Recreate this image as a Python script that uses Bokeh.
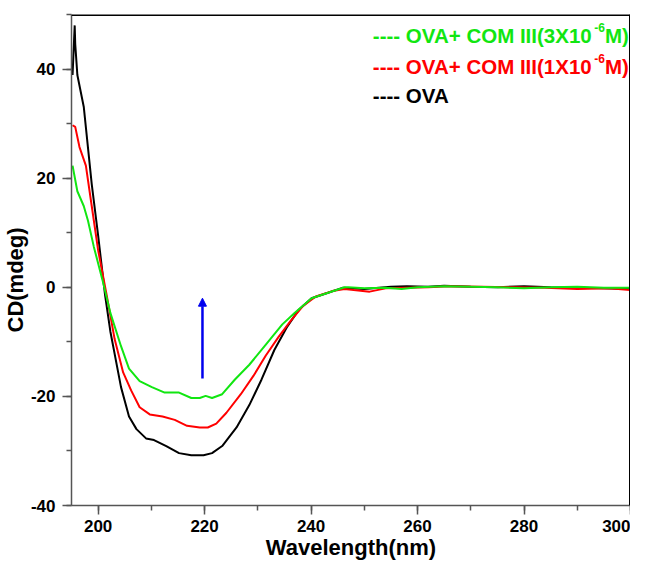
from bokeh.plotting import figure
from bokeh.models import (LinearAxis, SingleIntervalTicker, Range1d, Arrow, NormalHead,
                          ColumnDataSource, CustomJSTickFormatter, Span, Title)
from bokeh.core.properties import value
from bokeh.embed import file_html
from bokeh.resources import INLINE

# ---- data ----
ova_x = [195.2, 195.6, 195.7, 196.1, 197.3, 198.8, 200.0, 201.3, 202.3, 204.3, 205.8, 207.2,
         209.0, 210.5, 212.8, 215.2, 217.5, 219.8, 221.4, 223.3, 226.0, 228.4, 230.7, 233.1,
         235.4, 237.7, 240.1, 243.2, 245.9, 250, 255, 258, 262, 265, 270, 275, 280, 285,
         290, 295, 300]
ova_y = [38.9, 48.0, 44.6, 38.9, 33.1, 18.9, 9.5, -1.4, -8.1, -18.3, -23.7, -26.0,
         -27.7, -28.0, -29.1, -30.4, -30.8, -30.8, -30.4, -29.1, -25.7, -21.6, -16.9, -11.5,
         -7.4, -4.1, -2.0, -1.0, -0.1, -0.3, 0.1, 0.2, 0.1, 0.3, 0.1, 0.0, 0.2, 0.0,
         -0.1, -0.2, -0.3]

com1_x = [195.2, 195.7, 196.5, 197.7, 198.8, 200.0, 201.6, 203.1, 204.7, 206.2, 207.8, 209.7,
          212.1, 214.4, 216.7, 219.1, 220.6, 222.2, 224.1, 226.8, 229.2, 231.5, 233.9, 236.2,
          238.5, 240.9, 244.0, 246.3, 248, 251, 254, 258, 262, 266, 272, 278, 284, 290,
          296, 300]
com1_y = [29.7, 29.4, 25.7, 22.3, 14.9, 6.8, -1.4, -9.5, -15.6, -18.9, -22.0, -23.3,
          -23.7, -24.3, -25.4, -25.7, -25.7, -25.0, -23.0, -19.6, -16.2, -12.5, -9.1, -6.1,
          -3.4, -1.7, -0.7, -0.3, -0.5, -0.8, -0.2, -0.1, 0.0, 0.2, 0.1, 0.0, -0.1, -0.3,
          -0.2, -0.5]

com3_x = [195.2, 196.1, 197.3, 198.1, 199.2, 200.8, 202.3, 204.3, 205.8, 207.8, 210.1, 212.5,
          215.2, 217.5, 219.1, 220.2, 221.4, 223.3, 225.7, 228.4, 231.5, 234.6, 236.9, 240.1,
          243.2, 246.3, 247, 250, 254, 257, 260, 265, 270, 275, 280, 285, 290, 295, 300]
com3_y = [22.3, 17.6, 14.9, 12.2, 7.4, 1.4, -4.7, -10.8, -14.9, -17.2, -18.3, -19.3,
          -19.3, -20.3, -20.3, -19.9, -20.3, -19.6, -16.9, -14.2, -10.5, -6.8, -4.7, -2.0,
          -1.0, 0.0, 0.0, -0.2, -0.1, -0.3, 0.0, 0.2, 0.1, 0.0, -0.2, 0.0, 0.1, -0.1, -0.1]

# legend: main text, superscript, tail
legend_main = ["---- OVA+ COM III(3X10", "---- OVA+ COM III(1X10", "---- OVA"]
legend_sup = ["-6", "-6", ""]
legend_tail = ["M)", "M)", ""]
legend_colors = ["#11e611", "#ff0000", "#000000"]

x_label = "Wavelength(nm)"
y_label = "CD(mdeg)"

x_min, x_max = 195, 300
y_min, y_max = -40, 50

arrow_x = 219.6
arrow_y_start = -16.7
arrow_y_end = -2.0

FONT = "Liberation Sans"
LEG_SIZE = 20.5
SUP_SIZE = 12

# Arial/Liberation Sans Bold advance widths (per 1000 em)
W = {'-': 333, ' ': 278, 'O': 778, 'V': 667, 'A': 722, '+': 584, 'C': 722, 'M': 833,
     'I': 278, '(': 333, ')': 333, '3': 556, '1': 556, 'X': 667, '0': 556, '6': 556}

def tw(s, size):
    return sum(W[c] for c in s) * size / 1000.0

p = figure(width=630, height=562, output_backend="svg", toolbar_location=None,
           x_range=Range1d(x_min, x_max), y_range=Range1d(y_min, y_max),
           min_border_left=67, min_border_right=0, min_border_top=14, min_border_bottom=57)
p.xaxis.visible = False
p.yaxis.visible = False
p.grid.visible = False
p.outline_line_color = None
p.background_fill_color = "white"
p.border_fill_color = "white"

fmt = CustomJSTickFormatter(code="return tick.toFixed(0);")

def style_axis(ax):
    ax.formatter = fmt
    ax.axis_line_color = "#555555"
    ax.axis_line_width = 1.5
    ax.major_tick_line_color = "#555555"
    ax.minor_tick_line_color = "#555555"
    ax.major_tick_line_width = 1.5
    ax.minor_tick_line_width = 1.5
    ax.major_tick_out = 9
    ax.major_tick_in = 0
    ax.minor_tick_out = 5
    ax.minor_tick_in = 0
    ax.major_label_text_font = FONT
    ax.major_label_text_font_style = "bold"
    ax.major_label_text_font_size = "17px"
    ax.major_label_text_color = "black"
    ax.axis_label_text_font = FONT
    ax.axis_label_text_font_style = "bold"
    ax.axis_label_text_font_size = "22px"
    ax.axis_label_text_color = "black"

xax = LinearAxis(ticker=SingleIntervalTicker(interval=20, num_minor_ticks=2))
style_axis(xax)
xax.axis_label = x_label
xax.major_label_standoff = 5
xax.axis_label_standoff = 0
p.add_layout(xax, "below")

yax = LinearAxis(ticker=SingleIntervalTicker(interval=20, num_minor_ticks=2))
style_axis(yax)
yax.major_label_standoff = 7
p.add_layout(yax, "left")

# y-axis title, placed lower than centre as in the reference
p.add_layout(Title(text=y_label, align="left", offset=173, standoff=0,
                   text_font=FONT, text_font_style="bold", text_font_size="22px",
                   text_color="black"), "left")

# thick black top and right frame edges
p.add_layout(Span(location=y_max, dimension="width", line_color="black", line_width=3))
p.add_layout(Span(location=x_max, dimension="height", line_color="black", line_width=3))

p.line(ova_x, ova_y, line_color="black", line_width=2)
p.line(com1_x, com1_y, line_color="#ff0000", line_width=2)
p.line(com3_x, com3_y, line_color="#11e611", line_width=2)

p.add_layout(Arrow(end=NormalHead(size=8, fill_color="#0000ee", line_color="#0000ee"),
                   x_start=arrow_x, y_start=arrow_y_start, x_end=arrow_x, y_end=arrow_y_end,
                   line_color="#0000ee", line_width=2.5))

leg_x = [251.6] * 3
leg_y = [46.15, 40.47, 35.1]
main_w = [tw(s, LEG_SIZE) for s in legend_main]
sup_w = [tw(s, SUP_SIZE) for s in legend_sup]

src_main = ColumnDataSource(dict(x=leg_x, y=leg_y, text=legend_main, color=legend_colors))
p.text(x="x", y="y", text="text", text_color="color", source=src_main,
       text_font=value(FONT), text_font_style="bold", text_font_size=f"{LEG_SIZE}px",
       text_baseline="middle", text_align="left")

src_sup = ColumnDataSource(dict(x=leg_x, y=leg_y, text=legend_sup, color=legend_colors,
                                dx=[w + 1 for w in main_w]))
p.text(x="x", y="y", text="text", text_color="color", source=src_sup, x_offset="dx",
       y_offset=-8, text_font=value(FONT), text_font_style="bold",
       text_font_size=f"{SUP_SIZE}px", text_baseline="middle", text_align="left")

src_tail = ColumnDataSource(dict(x=leg_x, y=leg_y, text=legend_tail, color=legend_colors,
                                 dx=[m + s + 1 for m, s in zip(main_w, sup_w)]))
p.text(x="x", y="y", text="text", text_color="color", source=src_tail, x_offset="dx",
       text_font=value(FONT), text_font_style="bold", text_font_size=f"{LEG_SIZE}px",
       text_baseline="middle", text_align="left")

open("out.html", "w").write(file_html(p, INLINE))
